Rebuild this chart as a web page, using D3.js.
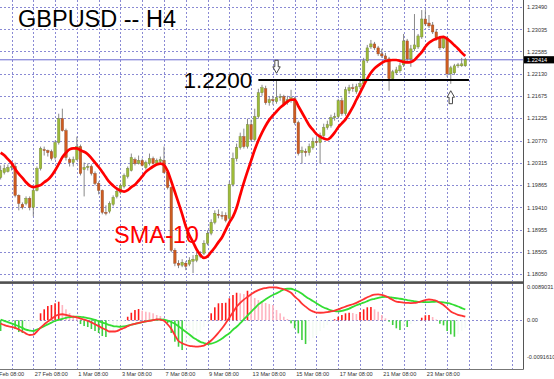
<!DOCTYPE html>
<html><head><meta charset="utf-8">
<script src="https://cdn.jsdelivr.net/npm/d3@7/dist/d3.min.js"></script>
<style>html,body{margin:0;padding:0;background:#fff;}svg{display:block;}</style>
</head><body>
<script>
// ---------- DATA ----------
const tradingDays = ["23 Feb","24 Feb","27 Feb","28 Feb","1 Mar","2 Mar","3 Mar","6 Mar","7 Mar","8 Mar","9 Mar","10 Mar","13 Mar","14 Mar","15 Mar","16 Mar","17 Mar","20 Mar","21 Mar","22 Mar","23 Mar","24 Mar","27 Mar"];
const barHours = ["00:00","04:00","08:00","12:00","16:00","20:00"];
const firstBar = "23 Feb 20:00";

const open = [1.20017,1.20118,1.20139,1.20220,1.20240,1.19652,1.19469,1.19489,1.19591,1.19408,
1.19753,1.20200,1.20585,1.20565,1.20545,1.20423,1.20727,1.21215,1.20971,1.20382,
1.20321,1.20382,1.20646,1.20179,1.20220,1.20240,1.20098,1.19895,1.19753,1.19306,
1.19327,1.19469,1.19631,1.19712,1.19834,1.20037,1.20159,1.20382,1.20301,1.20362,
1.20220,1.20301,1.20403,1.20301,1.20342,1.20362,1.20118,1.19814,1.18535,1.18271,
1.18230,1.18271,1.18251,1.18312,1.18332,1.18413,1.18474,1.18677,1.18880,1.19103,
1.19266,1.19246,1.19246,1.19185,1.19875,1.20403,1.20626,1.20849,1.20646,1.21093,
1.20788,1.21255,1.21742,1.21824,1.21539,1.21600,1.21560,1.21641,1.21661,1.21539,
1.21580,1.21620,1.21133,1.20524,1.20545,1.20524,1.20626,1.20748,1.20727,1.20869,
1.21032,1.21073,1.21235,1.21255,1.21580,1.21316,1.21783,1.21844,1.21763,1.21864,
1.21925,1.22392,1.22676,1.22737,1.22656,1.22534,1.22493,1.22433,1.22027,1.22148,
1.22189,1.22311,1.22798,1.22433,1.22636,1.22676,1.22879,1.23245,1.23163,1.23123,
1.22981,1.22859,1.22656,1.22859,1.22128,1.22148,1.22291,1.22291,1.22291];
const high = [1.20261,1.20281,1.20281,1.20301,1.20321,1.19672,1.19509,1.19631,1.19631,1.19794,
1.20240,1.20646,1.20646,1.20585,1.20585,1.20768,1.21316,1.21418,1.21012,1.20423,
1.20443,1.20849,1.20687,1.20321,1.20301,1.20281,1.20139,1.19936,1.19773,1.19449,
1.19530,1.19652,1.19794,1.19895,1.20098,1.20240,1.20504,1.20423,1.20464,1.20403,
1.20362,1.20504,1.20443,1.20403,1.20443,1.20646,1.20159,1.19834,1.18576,1.18332,
1.18352,1.18312,1.18393,1.18434,1.18494,1.18515,1.18738,1.18941,1.19164,1.19347,
1.19367,1.19327,1.19306,1.19936,1.20524,1.20707,1.20930,1.21012,1.21215,1.21195,
1.21418,1.21824,1.21905,1.21885,1.21661,1.21681,1.22006,1.21722,1.21701,1.21681,
1.21803,1.21661,1.21174,1.20646,1.20606,1.20707,1.20829,1.20829,1.20930,1.21113,
1.21174,1.21296,1.21336,1.21620,1.21641,1.21864,1.21905,1.21925,1.21925,1.21986,
1.22453,1.22717,1.22818,1.22778,1.22697,1.22636,1.22554,1.22473,1.22209,1.22270,
1.22351,1.22940,1.22839,1.22717,1.23346,1.22940,1.23427,1.23427,1.23326,1.23184,
1.23042,1.22900,1.22900,1.22900,1.22291,1.22331,1.22351,1.22453,1.22453];
const low = [1.19976,1.20078,1.20118,1.20159,1.19611,1.19347,1.19367,1.19449,1.19347,1.19225,
1.19733,1.20159,1.20464,1.20443,1.20362,1.20382,1.20687,1.20951,1.20362,1.20240,
1.20240,1.20362,1.20058,1.19631,1.20159,1.20058,1.19855,1.19672,1.19266,1.19246,
1.19286,1.19428,1.19591,1.19672,1.19794,1.19997,1.20139,1.20261,1.20281,1.20240,
1.20179,1.20261,1.20281,1.20261,1.20301,1.20098,1.19773,1.18494,1.18210,1.18170,
1.18190,1.18129,1.18210,1.18068,1.18291,1.18373,1.18434,1.18637,1.18840,1.19063,
1.19185,1.19164,1.19103,1.19144,1.19834,1.20342,1.20585,1.20606,1.20606,1.20748,
1.20748,1.21215,1.21681,1.21499,1.21479,1.21499,1.21519,1.21580,1.21479,1.21499,
1.21539,1.21093,1.20464,1.20301,1.20443,1.20464,1.20585,1.20667,1.20301,1.20829,
1.20991,1.21032,1.21174,1.21215,1.21275,1.21275,1.21722,1.21763,1.21722,1.21824,
1.21885,1.22351,1.22636,1.22615,1.22493,1.22453,1.22392,1.21783,1.21986,1.22108,
1.22148,1.22270,1.22392,1.22270,1.22595,1.22636,1.22839,1.23103,1.23062,1.22940,
1.22818,1.22615,1.22636,1.22067,1.21925,1.22108,1.22250,1.22270,1.22270];
const close = [1.20159,1.20200,1.20220,1.20240,1.19652,1.19489,1.19408,1.19591,1.19408,1.19753,
1.20200,1.20606,1.20565,1.20524,1.20403,1.20727,1.21215,1.20971,1.20423,1.20321,
1.20382,1.20646,1.20098,1.20220,1.20240,1.20098,1.19895,1.19753,1.19306,1.19286,
1.19489,1.19611,1.19733,1.19855,1.20058,1.20200,1.20423,1.20301,1.20362,1.20261,
1.20321,1.20403,1.20301,1.20362,1.20382,1.20118,1.19814,1.18535,1.18271,1.18230,
1.18291,1.18210,1.18332,1.18352,1.18434,1.18454,1.18677,1.18880,1.19103,1.19286,
1.19246,1.19225,1.19144,1.19875,1.20403,1.20626,1.20849,1.20646,1.21093,1.20788,
1.21255,1.21742,1.21844,1.21539,1.21600,1.21580,1.21641,1.21661,1.21519,1.21600,
1.21641,1.21133,1.20504,1.20565,1.20524,1.20646,1.20748,1.20727,1.20869,1.21032,
1.21093,1.21235,1.21255,1.21580,1.21316,1.21803,1.21844,1.21824,1.21864,1.21925,
1.22392,1.22656,1.22737,1.22656,1.22534,1.22493,1.22433,1.22027,1.22169,1.22209,
1.22291,1.22798,1.22433,1.22636,1.22717,1.22900,1.23245,1.23143,1.23103,1.22981,
1.22859,1.22656,1.22859,1.22128,1.22250,1.22291,1.22311,1.22331,1.22414];
const sma10 = [1.2052,1.2047,1.2039,1.2031,1.2019,1.2009,1.2001,1.1992,1.1985,1.1982,
1.1984,1.1986,1.1992,1.1997,1.2005,1.2016,1.2029,1.2043,1.2052,1.2059,
1.2061,1.2061,1.2057,1.2054,1.2049,1.2041,1.2032,1.2023,1.2013,1.2002,
1.1992,1.1985,1.1979,1.1975,1.1973,1.1976,1.1982,1.1987,1.1995,1.2004,
1.2013,1.2019,1.2024,1.2028,1.2030,1.2027,1.2015,1.1994,1.1972,1.1950,
1.1927,1.1902,1.1884,1.1870,1.1855,1.1844,1.1838,1.1841,1.1850,1.1859,
1.1870,1.1880,1.1895,1.1910,1.1922,1.1940,1.1966,1.1991,1.2014,1.2036,
1.2058,1.2077,1.2093,1.2107,1.2119,1.2128,1.2136,1.2144,1.2150,1.2156,
1.2160,1.2160,1.2147,1.2134,1.2121,1.2108,1.2099,1.2090,1.2085,1.2081,
1.2079,1.2084,1.2093,1.2104,1.2112,1.2120,1.2132,1.2145,1.2160,1.2174,
1.2189,1.2203,1.2215,1.2224,1.2230,1.2235,1.2239,1.2240,1.2241,1.2241,
1.2239,1.2237,1.2236,1.2237,1.2241,1.2249,1.2257,1.2268,1.2276,1.2281,
1.2284,1.2287,1.2288,1.2284,1.2278,1.2271,1.2264,1.2256,1.2249];

const oscHist = [-0.00262,-0.00213,-0.00164,-0.00115,-0.00213,-0.00287,-0.00311,-0.00262,-0.00213,-0.00140,
-0.00066,0.00172,0.00270,0.00350,0.00375,0.00417,0.00456,0.00375,0.00270,0.00179,
0.00105,0.00056,-0.00091,-0.00140,-0.00164,-0.00213,-0.00262,-0.00311,-0.00385,-0.00409,
-0.00336,-0.00262,-0.00189,-0.00115,-0.00042,0.00088,0.00186,0.00252,0.00277,0.00235,
0.00211,0.00196,0.00172,0.00130,0.00105,0.00049,-0.00066,-0.00311,-0.00524,-0.00647,
-0.00728,-0.00654,-0.00556,-0.00458,-0.00360,-0.00262,-0.00164,-0.00066,0.00172,0.00319,
0.00417,0.00424,0.00431,0.00539,0.00620,0.00676,0.00662,0.00644,0.00725,0.00662,
0.00546,0.00497,0.00448,0.00424,0.00399,0.00375,0.00252,0.00172,0.00088,0.00032,
-0.00074,-0.00196,-0.00319,-0.00483,-0.00581,-0.00507,-0.00434,-0.00360,-0.00262,-0.00189,
-0.00115,-0.00042,0.00025,0.00088,0.00130,0.00172,0.00186,0.00179,0.00154,0.00203,
0.00270,0.00319,0.00326,0.00270,0.00211,0.00130,0.00049,-0.00034,-0.00115,-0.00196,
-0.00238,-0.00140,-0.00164,-0.00091,-0.00042,-0.00012,0.00064,0.00123,0.00130,0.00081,
0.00020,-0.00083,-0.00123,-0.00262,-0.00343,-0.00402,-0.00336,-0.00262,-0.00189];
const oscRed = [-0.00078,-0.00115,-0.00145,-0.00159,-0.00184,-0.00225,-0.00272,-0.00326,-0.00360,-0.00353,
-0.00274,-0.00181,-0.00098,-0.00032,0.00034,0.00100,0.00137,0.00149,0.00135,0.00108,
0.00091,0.00071,0.00044,0.00017,-0.00015,-0.00051,-0.00096,-0.00142,-0.00189,-0.00230,
-0.00274,-0.00274,-0.00262,-0.00223,-0.00189,-0.00145,-0.00108,-0.00086,-0.00064,-0.00042,
-0.00025,-0.00012,0.00005,0.00025,0.00015,-0.00010,-0.00098,-0.00208,-0.00365,-0.00507,
-0.00561,-0.00598,-0.00625,-0.00637,-0.00647,-0.00637,-0.00620,-0.00564,-0.00495,-0.00407,
-0.00304,-0.00194,-0.00069,0.00064,0.00198,0.00331,0.00429,0.00507,0.00573,0.00637,
0.00698,0.00740,0.00772,0.00791,0.00806,0.00806,0.00804,0.00786,0.00762,0.00725,
0.00676,0.00581,0.00507,0.00409,0.00336,0.00267,0.00221,0.00189,0.00186,0.00189,
0.00201,0.00218,0.00240,0.00267,0.00304,0.00338,0.00368,0.00394,0.00429,0.00473,
0.00517,0.00564,0.00603,0.00630,0.00637,0.00625,0.00595,0.00551,0.00502,0.00458,
0.00446,0.00436,0.00429,0.00424,0.00426,0.00443,0.00470,0.00495,0.00510,0.00500,
0.00480,0.00429,0.00375,0.00299,0.00218,0.00172,0.00135,0.00113,0.00088];
const oscGreen = [0.00020,-0.00012,-0.00044,-0.00076,-0.00108,-0.00145,-0.00186,-0.00230,-0.00250,-0.00262,
-0.00225,-0.00189,-0.00145,-0.00100,-0.00056,-0.00017,0.00012,0.00037,0.00059,0.00076,
0.00088,0.00088,0.00086,0.00074,0.00056,0.00034,0.00010,-0.00022,-0.00054,-0.00083,
-0.00115,-0.00140,-0.00149,-0.00157,-0.00147,-0.00130,-0.00108,-0.00088,-0.00066,-0.00047,
-0.00025,-0.00007,0.00007,0.00015,0.00025,0.00015,-0.00007,-0.00042,-0.00086,-0.00147,
-0.00213,-0.00282,-0.00348,-0.00421,-0.00475,-0.00527,-0.00556,-0.00581,-0.00573,-0.00544,
-0.00502,-0.00446,-0.00377,-0.00316,-0.00230,-0.00157,-0.00069,0.00025,0.00118,0.00206,
0.00296,0.00390,0.00453,0.00519,0.00573,0.00620,0.00662,0.00706,0.00760,0.00774,
0.00774,0.00742,0.00706,0.00649,0.00586,0.00527,0.00475,0.00421,0.00363,0.00314,
0.00279,0.00243,0.00223,0.00218,0.00230,0.00255,0.00287,0.00331,0.00370,0.00402,
0.00434,0.00470,0.00507,0.00527,0.00551,0.00571,0.00573,0.00568,0.00554,0.00541,
0.00529,0.00515,0.00497,0.00483,0.00466,0.00453,0.00451,0.00448,0.00448,0.00451,
0.00456,0.00448,0.00441,0.00424,0.00404,0.00372,0.00338,0.00301,0.00265];

const priceTicks = [1.23490,1.23035,1.22585,1.22130,1.21675,1.21225,1.20770,1.20315,1.19865,1.19410,1.18955,1.18505,1.18050];
const oscTicks = [0.0089031, 0, -0.0091610];
const oscTickLabels = ["0.0089031","0.00","-0.0091610"];
const xTickLabels = ["23 Feb 08:00","27 Feb 08:00","1 Mar 08:00","3 Mar 08:00","7 Mar 08:00","9 Mar 08:00","13 Mar 08:00","15 Mar 08:00","17 Mar 08:00","21 Mar 08:00","23 Mar 08:00"];
const bidPrice = 1.22414;
const levelPrice = 1.2200, levelLabel = "1.2200";
const levelFrom = "13 Mar 16:00";
const arrowTimes = ["14 Mar 12:00","24 Mar 12:00"];
const arrowTips = [1.22139, 1.21784];
const arrowDirs = ["down","up"];
const titleText = "GBPUSD -- H4";
const smaLabel = "SMA-10";

// ---------- BUILD ----------
const allTimes = [];
tradingDays.forEach(d => barHours.forEach(h => allTimes.push(d + " " + h)));
const off = allTimes.indexOf(firstBar);
const times = allTimes.slice(off, off + close.length);
const bars = times.map((t,i)=>({t,i,o:open[i],h:high[i],l:low[i],c:close[i]}));
const idx = t => allTimes.indexOf(t) - off;

const W = 554, H = 379, RX = 523.5;
const FONT = "'Liberation Sans', Arial, sans-serif";
const svg = d3.select("body").append("svg").attr("width",W).attr("height",H)
  .attr("font-family",FONT);
svg.append("rect").attr("width",W).attr("height",H).attr("fill","#fff");

const x = d3.scaleLinear().domain([0, close.length-1]).range([0.63, 465.3]);
const y = d3.scaleLinear().domain([1.18505, 1.23035]).range([251.7, 29.3]);
const yo = d3.scaleLinear().domain([-0.0091610, 0.0089031]).range([357.7, 284]);

const defs = svg.append("defs");
defs.append("clipPath").attr("id","cm").append("rect").attr("x",0).attr("y",0).attr("width",RX).attr("height",281.5);
defs.append("clipPath").attr("id","co").append("rect").attr("x",0).attr("y",284).attr("width",RX).attr("height",85);

const gridColor = "#8a8ad4";
const gridIdx = d3.range(3, 144, 6);
const grid = svg.append("g").attr("stroke",gridColor).attr("stroke-width",1).attr("stroke-dasharray","2,2");
gridIdx.forEach(g => {
  const gx = Math.round(x(g)) + 0.5;
  if (gx > RX) return;
  grid.append("line").attr("x1",gx).attr("x2",gx).attr("y1",0).attr("y2",281);
  grid.append("line").attr("x1",gx).attr("x2",gx).attr("y1",284).attr("y2",369);
});
priceTicks.forEach(p => {
  const gy = Math.round(y(p)) + 0.5;
  grid.append("line").attr("x1",0).attr("x2",RX).attr("y1",gy).attr("y2",gy);
});
grid.append("line").attr("x1",0).attr("x2",RX).attr("y1",Math.round(yo(0))+0.5).attr("y2",Math.round(yo(0))+0.5);

// bid line
svg.append("line").attr("x1",0).attr("x2",RX).attr("y1",y(bidPrice)).attr("y2",y(bidPrice))
  .attr("stroke","#6c6cd2").attr("stroke-width",1);

// candles
const main = svg.append("g").attr("clip-path","url(#cm)");
const cg = main.selectAll("g.c").data(bars).enter().append("g");
cg.append("line").attr("x1",d=>x(d.i)).attr("x2",d=>x(d.i)).attr("y1",d=>y(d.h)).attr("y2",d=>y(d.l))
  .attr("stroke","#7c7c7c").attr("stroke-width",0.9);
cg.append("rect").attr("x",d=>x(d.i)-1.25).attr("width",2.5)
  .attr("y",d=>Math.min(y(d.o),y(d.c)))
  .attr("height",d=>Math.max(1,Math.abs(y(d.o)-y(d.c))))
  .attr("fill",d=>d.c>=d.o ? "#9dbb38" : "#cf5c20")
  .attr("stroke",d=>d.c>=d.o ? "#6f7f3a" : "#8a4a2a").attr("stroke-width",0.4);

// SMA
main.append("path").datum(sma10)
  .attr("d", d3.line().x((d,i)=>x(i)).y(d=>y(d)).curve(d3.curveMonotoneX))
  .attr("fill","none").attr("stroke","#ff0000").attr("stroke-width",2.7).attr("stroke-linejoin","round");

// 1.2200 level
main.append("line").attr("x1",x(idx(levelFrom))).attr("x2",x(close.length))
  .attr("y1",y(levelPrice)).attr("y2",y(levelPrice)).attr("stroke","#000").attr("stroke-width",2);
svg.append("text").attr("x",x(idx(levelFrom))-6).attr("y",y(levelPrice)+7.5)
  .attr("text-anchor","end").attr("font-size",22.5).attr("fill","#000").text(levelLabel);

// arrows
arrowTimes.forEach((t,k)=>{
  const cx = x(idx(t)), tip = y(arrowTips[k]), s = arrowDirs[k]==="down" ? -1 : 1;
  const pts = [[-1.7,13],[1.7,13],[1.7,6.5],[3.7,6.5],[0,0],[-3.7,6.5],[-1.7,6.5]]
    .map(([dx,dy])=>[cx+dx, tip + s*dy]);
  svg.append("path").attr("d","M"+pts.map(p=>p.join(",")).join("L")+"Z")
    .attr("fill","#fff").attr("stroke","#333").attr("stroke-width",0.9);
});

// texts
svg.append("text").attr("x",18).attr("y",27.3).attr("font-size",23.5).attr("fill","#000").text(titleText);
svg.append("text").attr("x",114).attr("y",243).attr("font-size",23.5).attr("fill","#ff0000").text(smaLabel);

// separator and frame
svg.append("rect").attr("x",0).attr("y",281.3).attr("width",RX).attr("height",2.6).attr("fill","#505050");
svg.append("line").attr("x1",RX).attr("x2",RX).attr("y1",0).attr("y2",369.5).attr("stroke","#555").attr("stroke-width",1);
svg.append("line").attr("x1",0).attr("x2",RX).attr("y1",369.5).attr("y2",369.5).attr("stroke","#777").attr("stroke-width",1);

// oscillator
const osc = svg.append("g").attr("clip-path","url(#co)");
const histColor = (v,i) => {
  const p = i>0 ? oscHist[i-1] : v;
  if (v >= 0) return v >= p ? "#ff1a1a" : "#ffb4c0";
  return v <= p ? "#3fcf3f" : "#f4fbf4";
};
osc.selectAll("rect.h").data(oscHist).enter().append("rect")
  .attr("x",(d,i)=>x(i)-0.8).attr("width",1.6)
  .attr("y",d=>Math.min(yo(0),yo(d))).attr("height",d=>Math.abs(yo(d)-yo(0)))
  .attr("fill",(d,i)=>histColor(d,i));
osc.append("path").datum(oscGreen)
  .attr("d", d3.line().x((d,i)=>x(i)).y(d=>yo(d)).curve(d3.curveMonotoneX))
  .attr("fill","none").attr("stroke","#33dd33").attr("stroke-width",1.8);
osc.append("path").datum(oscRed)
  .attr("d", d3.line().x((d,i)=>x(i)).y(d=>yo(d)).curve(d3.curveMonotoneX))
  .attr("fill","none").attr("stroke","#ff3333").attr("stroke-width",1.8);

// price axis
const pa = svg.append("g").attr("transform",`translate(${RX},0)`)
  .call(d3.axisRight(y).tickValues(priceTicks).tickSize(0).tickPadding(3.5).tickFormat(d3.format(".5f")));
pa.select(".domain").remove();
pa.selectAll("text").attr("font-size",5.6).attr("font-family",FONT).attr("fill","#333");

// bid label
const by = y(bidPrice);
svg.append("rect").attr("x",RX+0.5).attr("y",by-3.6).attr("width",W-RX).attr("height",7.2).attr("fill","#000");
svg.append("text").attr("x",RX+3.5).attr("y",by).attr("dy","0.34em").attr("font-size",5.6).attr("fill","#fff").text(d3.format(".5f")(bidPrice));

// osc axis
const oa = svg.append("g").attr("transform",`translate(${RX},0)`)
  .call(d3.axisRight(yo).tickValues(oscTicks).tickSize(0).tickPadding(3.5).tickFormat((d,i)=>oscTickLabels[i]));
oa.select(".domain").remove();
oa.selectAll(".tick").attr("transform",d=>`translate(0,${Math.min(Math.max(yo(d),287),365.3)})`);
oa.selectAll("text").attr("font-size",5.6).attr("font-family",FONT).attr("fill","#333");

// time axis
const tickBars = xTickLabels.map(idx);
const ta = svg.append("g").attr("transform","translate(0,369.5)")
  .call(d3.axisBottom(x).tickValues(tickBars).tickSize(0).tickPadding(3).tickFormat((d,i)=>xTickLabels[i]));
ta.select(".domain").remove();
ta.selectAll("text").attr("text-anchor","start").attr("x",1).attr("font-size",5.6).attr("font-family",FONT).attr("fill","#333");
</script>
</body></html>
